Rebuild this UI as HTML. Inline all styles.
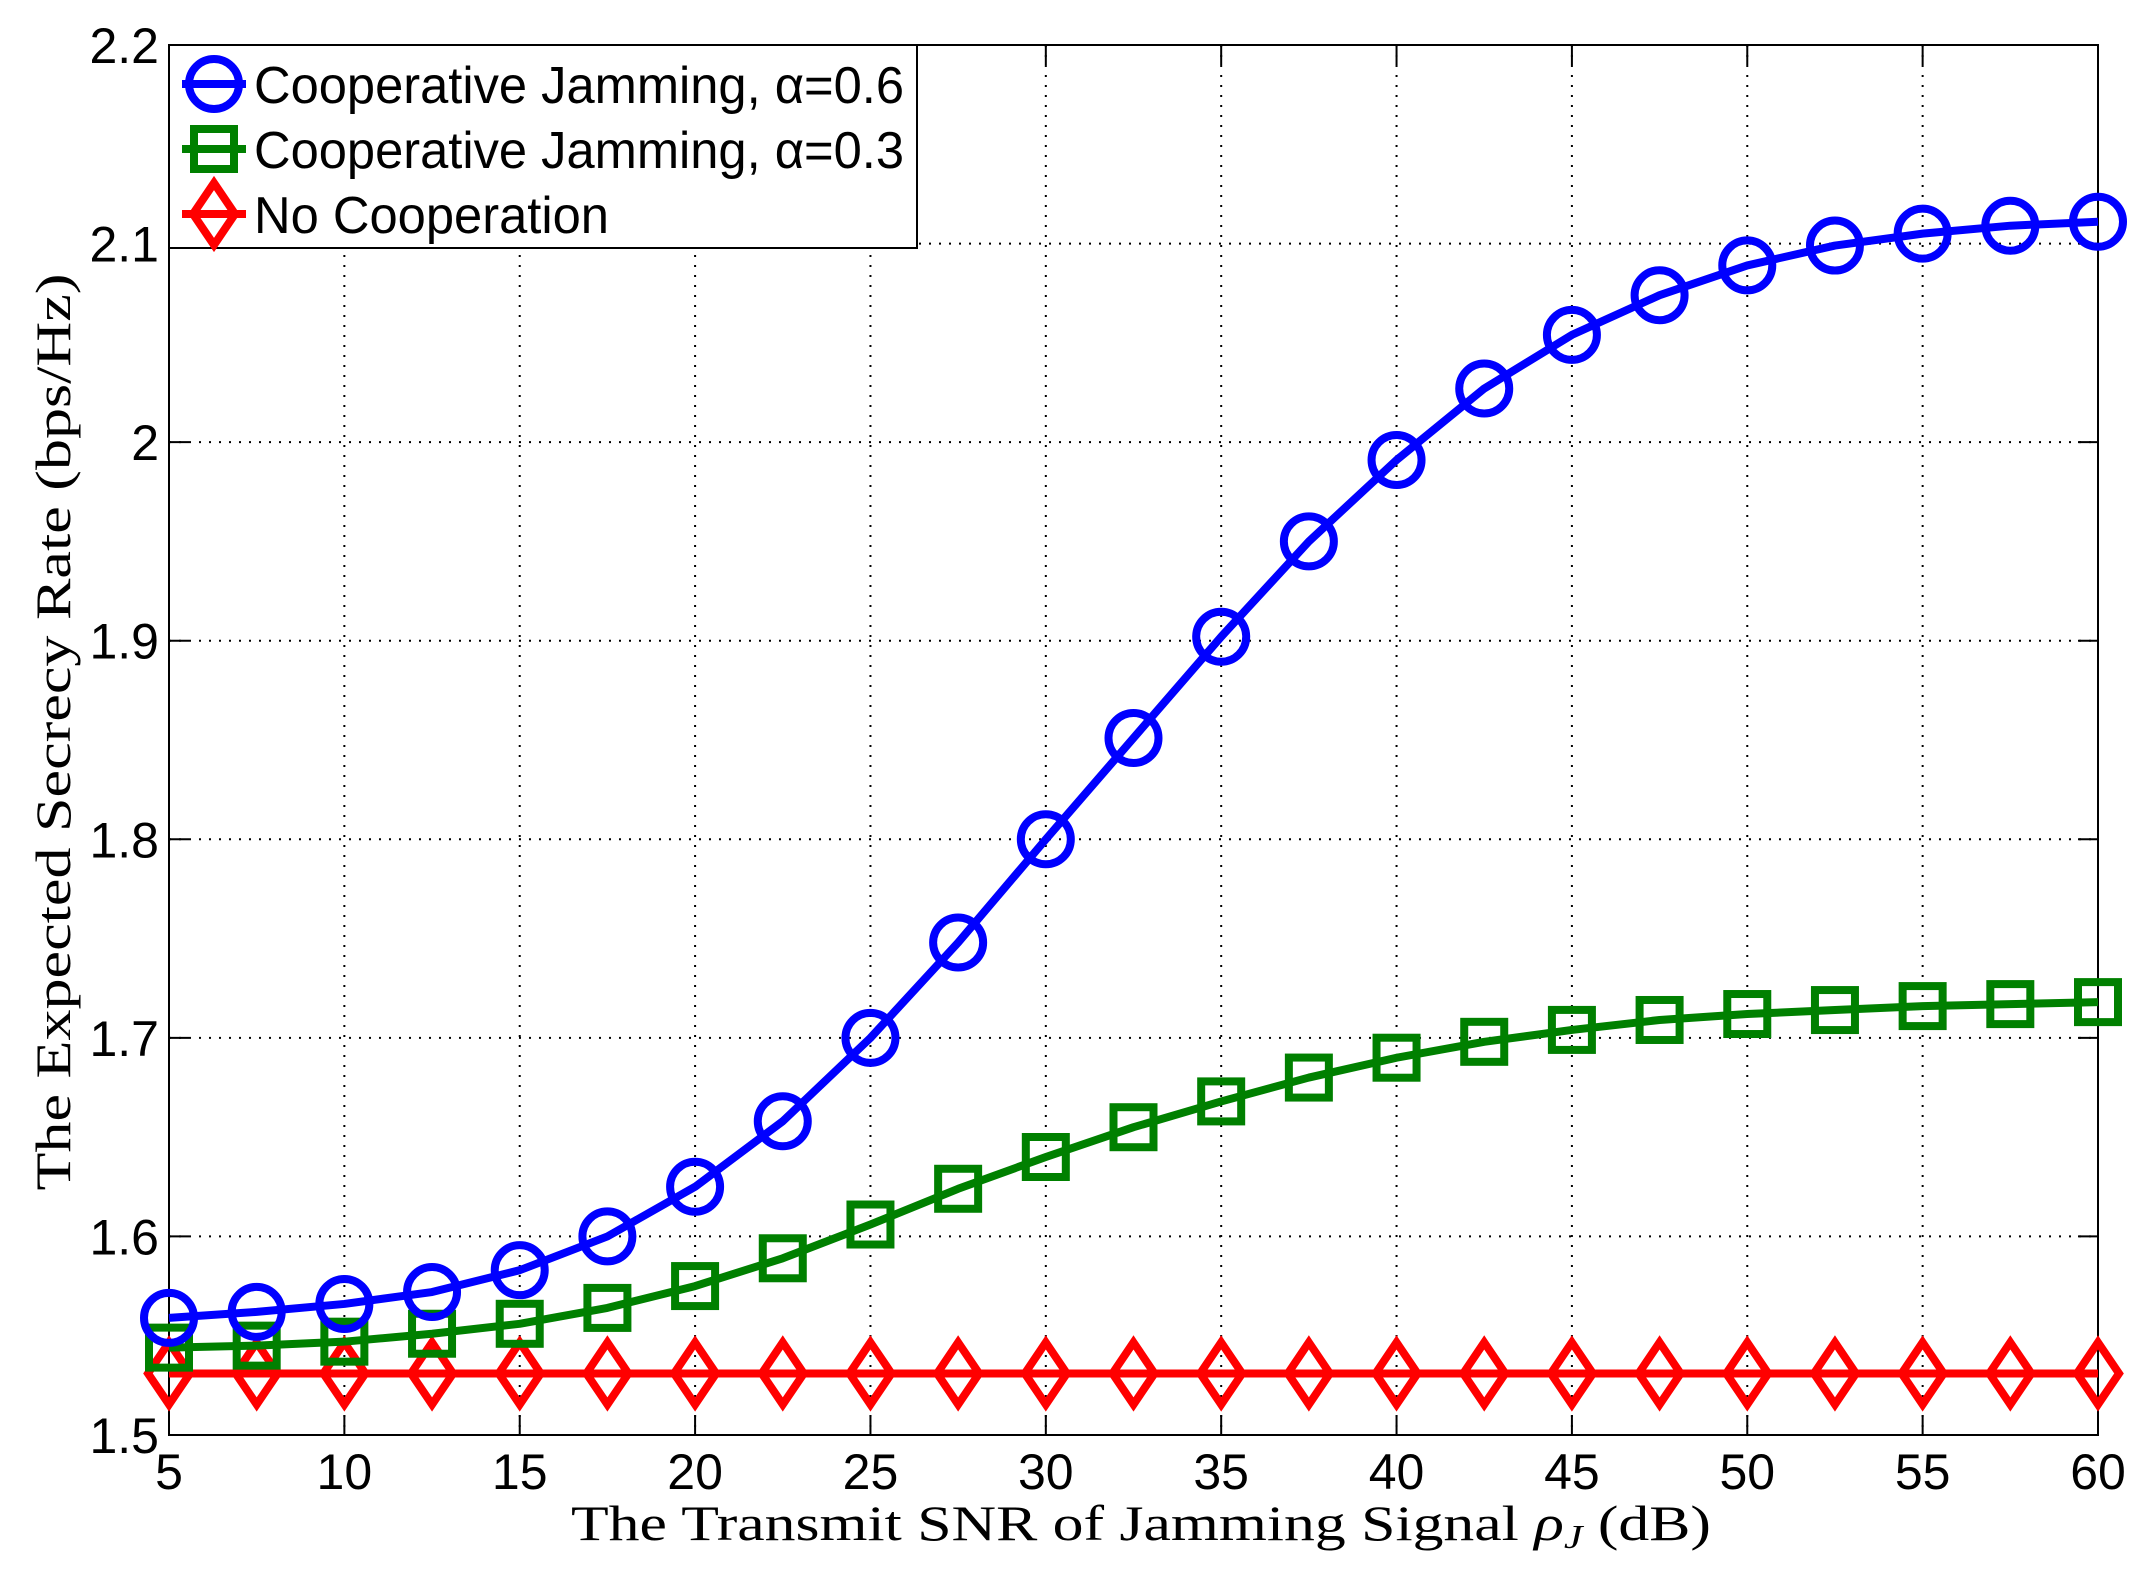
<!DOCTYPE html>
<html><head><meta charset="utf-8"><style>html,body{margin:0;padding:0;background:#fff}svg{display:block}</style></head>
<body>
<svg id="s" width="2147" height="1574" viewBox="0 0 2147 1574" xmlns="http://www.w3.org/2000/svg">
<rect width="2147" height="1574" fill="#fff"/>
<g id="grid"></g>
<g id="series"></g>
<g id="legend"></g>
<text x="0" y="0" transform="translate(70,732) rotate(-90)" text-anchor="middle" font-family="Liberation Serif, serif" font-size="50" textLength="917" lengthAdjust="spacingAndGlyphs">The Expected Secrecy Rate (bps/Hz)</text>
<text x="571" y="1540" font-family="Liberation Serif, serif" font-size="50" textLength="1140" lengthAdjust="spacingAndGlyphs">The Transmit SNR of Jamming Signal <tspan font-style="italic">ρ</tspan><tspan font-style="italic" font-size="34" dy="8">J</tspan><tspan dy="-8"> (dB)</tspan></text>
</svg>
<script>
var NS="http://www.w3.org/2000/svg";
function el(p,t,a,txt){var e=document.createElementNS(NS,t);for(var k in a)e.setAttribute(k,a[k]);if(txt!==undefined)e.textContent=txt;p.appendChild(e);return e;}
var L=169,R=2098,T=45,B=1435;
function X(v){return L+(v-5)*(R-L)/55;}
function Y(v){return B-(v-1.5)*(B-T)/0.7;}
var g=document.getElementById('grid');
for(var i=0;i<12;i++){var v=5+5*i,x=X(v);
 if(i>0&&i<11) el(g,'line',{x1:x,y1:T,x2:x,y2:B,stroke:'#000','stroke-width':2,'stroke-dasharray':'2,8'});
 el(g,'line',{x1:x,y1:B,x2:x,y2:B-20,stroke:'#000','stroke-width':2});
 el(g,'line',{x1:x,y1:T,x2:x,y2:T+20,stroke:'#000','stroke-width':2});
 el(g,'text',{x:x,y:1489,'text-anchor':'middle','font-family':'Liberation Sans, sans-serif','font-size':50},String(v));}
for(var j=0;j<8;j++){var v=1.5+0.1*j,y=Y(v);
 if(j>0&&j<7) el(g,'line',{x1:L,y1:y,x2:R,y2:y,stroke:'#000','stroke-width':2,'stroke-dasharray':'2,8'});
 el(g,'line',{x1:L,y1:y,x2:L+20,y2:y,stroke:'#000','stroke-width':2});
 el(g,'line',{x1:R,y1:y,x2:R-20,y2:y,stroke:'#000','stroke-width':2});
 var s=(j==5)?'2':v.toFixed(1);
 el(g,'text',{x:159,y:y+18,'text-anchor':'end','font-family':'Liberation Sans, sans-serif','font-size':50},s);}
el(g,'rect',{x:L,y:T,width:R-L,height:B-T,fill:'none',stroke:'#000','stroke-width':2});
var blue=[1.559,1.562,1.566,1.572,1.583,1.600,1.625,1.658,1.700,1.748,1.800,1.851,1.902,1.950,1.991,2.027,2.054,2.074,2.089,2.099,2.105,2.109,2.111];
var green=[1.544,1.545,1.547,1.551,1.556,1.564,1.575,1.589,1.606,1.624,1.640,1.655,1.668,1.680,1.690,1.698,1.704,1.709,1.712,1.714,1.716,1.717,1.718];
var sg=document.getElementById('series');
function marker(p,type,x,y,c){
 if(type=='o') el(p,'circle',{cx:x,cy:y,r:25,fill:'none',stroke:c,'stroke-width':8});
 else if(type=='s') el(p,'rect',{x:x-20,y:y-20,width:40,height:40,fill:'none',stroke:c,'stroke-width':8});
 else el(p,'polygon',{points:(x)+','+(y-31)+' '+(x+21)+','+y+' '+(x)+','+(y+31)+' '+(x-21)+','+y,fill:'none',stroke:c,'stroke-width':8});}
function series(d,c,type){var pts=[];for(var i=0;i<d.length;i++)pts.push(X(5+2.5*i)+','+Y(d[i]));
 el(sg,'polyline',{points:pts.join(' '),fill:'none',stroke:c,'stroke-width':8,'stroke-linejoin':'round'});
 for(var i=0;i<d.length;i++)marker(sg,type,X(5+2.5*i),Y(d[i]),c);}
var red=[];for(var i=0;i<23;i++)red.push(1.531);
series(red,'#ff0000','d');series(green,'#008000','s');series(blue,'#0000ff','o');
var lg=document.getElementById('legend');
el(lg,'rect',{x:169,y:45,width:748,height:203,fill:'#fff',stroke:'#000','stroke-width':2});
var ents=[['#0000ff','o','Cooperative Jamming, α=0.6',84],['#008000','s','Cooperative Jamming, α=0.3',149],['#ff0000','d','No Cooperation',214]];
ents.forEach(function(e){
 el(lg,'line',{x1:182,y1:e[3],x2:246,y2:e[3],stroke:e[0],'stroke-width':8});
 marker(lg,e[1],214,e[3],e[0]);
 var a={x:254,y:e[3]+19,'font-family':'Liberation Sans, sans-serif','font-size':52};
 if(e[1]!='d'){a.textLength=650;a.lengthAdjust='spacingAndGlyphs';} else {a.textLength=355;a.lengthAdjust='spacingAndGlyphs';}
 el(lg,'text',a,e[2]);});
</script>
</body></html>
